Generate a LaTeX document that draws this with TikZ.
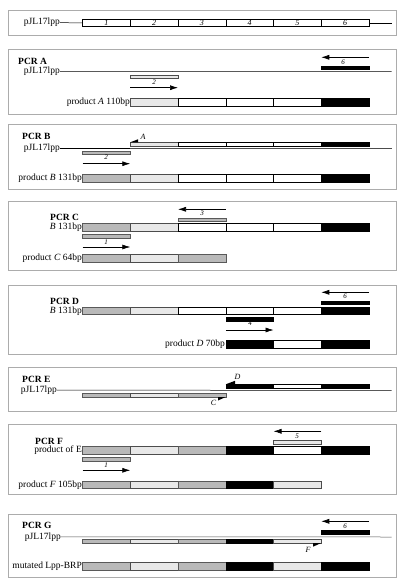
\documentclass[tikz,border=0pt]{standalone}
\usepackage{fontspec}
\setmainfont{Liberation Serif}
\usetikzlibrary{arrows.meta}
\newcommand\dnabar[3]{%
  \foreach \i/\s in {#3}{\path[\s] ({82.5+(\i-1)*47.75},#1) rectangle ({82.5+\i*47.75},#2);}}
\begin{document}
\begin{tikzpicture}[x=1pt,y=-1pt,
  frame/.style={draw=gray!65,line width=0.9pt},
  segW/.style={fill=white,draw=black,line width=0.4pt},
  segL/.style={fill=gray!18,draw=gray!60!black,line width=0.4pt},
  segD/.style={fill=gray!55,draw=gray!70!black,line width=0.4pt},
  segB/.style={fill=black,draw=black,line width=0.4pt},
  lbl/.style={inner sep=0pt,font=\fontsize{9.5}{11}\selectfont},
  ttl/.style={inner sep=0pt,anchor=west,font=\fontsize{9.5}{11}\selectfont\bfseries},
  num/.style={inner sep=0pt,font=\fontsize{7}{8}\selectfont\itshape},
  dna/.style={line width=0.5pt},
  parrow/.style={line width=0.6pt,-{Latex[length=8pt,width=5pt]}},
  wedge/.style={fill=black}]
\useasboundingbox (0,0) rectangle (405,588);

% ---------- overview ----------
\draw[frame] (8.3,10) rectangle (396.7,35.7);
\node[lbl,anchor=east] (t0) at (60,22.6) {pJL17lpp};
\draw[dna] (t0.east) -- (82.5,23);
\draw[dna] (369,23) -- (391.7,23);
\dnabar{19}{26.7}{1/segW,2/segW,3/segW,4/segW,5/segW,6/segW}
\foreach \i in {1,...,6}{\node[num,font=\fontsize{8}{9}\selectfont\itshape] (n\i) at ({82.5+(\i-0.5)*47.75},22.9) {\i};}

% ---------- PCR A ----------
\draw[frame] (8.3,49.3) rectangle (396.7,114);
\node[ttl] (tA) at (18,61.2) {PCR A};
\node[lbl,anchor=east] (pA) at (60,71.4) {pJL17lpp};
\draw[dna] (pA.east) -- (391.7,71.7);
\coordinate (a6s) at (369,57.3); \coordinate (a6e) at (321.25,57.3);
\draw[parrow] (a6s) -- (a6e);
\node[num] (lA6) at (343,62) {6};
\path[segB] (321.25,66.7) rectangle (369,69.7);
\path[segL] (130.25,75.3) rectangle (178,78.7);
\node[num] (lA2) at (154,82.3) {2};
\coordinate (a2s) at (130.25,87.7); \coordinate (a2e) at (178,87.7);
\draw[parrow] (a2s) -- (a2e);
\dnabar{98.3}{106}{2/segL,3/segW,4/segW,5/segW,6/segB}
\node[lbl,anchor=east] (prA) at (130,102.2) {product \textit{A} 110bp};

% ---------- PCR B ----------
\draw[frame] (8.3,124) rectangle (396.7,189.3);
\node[ttl] (tB) at (22,136.4) {PCR B};
\node[lbl,anchor=east] (pB) at (60,148.3) {pJL17lpp};
\draw[dna] (pB.east) -- (130.25,148.3);
\draw[dna,gray!60!black] (130.25,148.3) -- (391.7,148.3);
\dnabar{142.3}{146}{2/segL,3/segW,4/segW,5/segW,6/segB}
\fill[wedge] (130.25,142.3) -- (138,139.3) -- (138,142.3) -- cycle;
\node[num,font=\fontsize{8}{9}\selectfont\itshape] (lBA) at (143,136.7) {A};
\path[segD] (82.5,151) rectangle (130.25,154);
\node[num] (lB2) at (106,157.5) {2};
\coordinate (b1s) at (82.5,163.7); \coordinate (b1e) at (130.25,163.7);
\draw[parrow] (b1s) -- (b1e);
\dnabar{174.3}{182}{1/segD,2/segL,3/segW,4/segW,5/segW,6/segB}
\node[lbl,anchor=east] (prB) at (82,178.2) {product \textit{B} 131bp};

% ---------- PCR C ----------
\draw[frame] (8.3,201) rectangle (396.7,270);
\coordinate (c3s) at (225.75,209.3); \coordinate (c3e) at (178,209.3);
\draw[parrow] (c3s) -- (c3e);
\node[num] (lC3) at (202,213.3) {3};
\path[segD] (178,218) rectangle (225.75,221.3);
\node[ttl] (tC) at (50,217.2) {PCR C};
\dnabar{223.3}{231}{1/segD,2/segL,3/segW,4/segW,5/segW,6/segB}
\node[lbl,anchor=east] (tmC) at (82,227.6) {\textit{B} 131bp};
\path[segD] (82.5,234.3) rectangle (130.25,237.7);
\node[num] (lC1) at (106,242) {1};
\coordinate (c1s) at (82.5,247); \coordinate (c1e) at (130.25,247);
\draw[parrow] (c1s) -- (c1e);
\dnabar{254.3}{262}{1/segD,2/segL,3/segD}
\node[lbl,anchor=east] (prC) at (82,258.2) {product \textit{C} 64bp};

% ---------- PCR D ----------
\draw[frame] (8.3,285) rectangle (396.7,354);
\coordinate (d6s) at (369,292.3); \coordinate (d6e) at (321.25,292.3);
\draw[parrow] (d6s) -- (d6e);
\node[num] (lD6) at (345,296.7) {6};
\path[segB] (321.25,301) rectangle (369,304.3);
\node[ttl] (tD) at (50,301.6) {PCR D};
\dnabar{306.7}{314.3}{1/segD,2/segL,3/segW,4/segW,5/segW,6/segB}
\node[lbl,anchor=east] (tmD) at (82,311) {\textit{B} 131bp};
\path[segB] (225.75,316.7) rectangle (273.5,320.7);
\node[num] (lD4) at (250,323.3) {4};
\coordinate (d4s) at (225.75,330); \coordinate (d4e) at (273.5,330);
\draw[parrow] (d4s) -- (d4e);
\dnabar{340}{347.7}{4/segB,5/segW,6/segB}
\node[lbl,anchor=east] (prD) at (225,344) {product \textit{D} 70bp};

% ---------- PCR E ----------
\draw[frame] (8.3,367.3) rectangle (396.7,411);
\node[ttl] (tE) at (22,379.6) {PCR E};
\node[num,font=\fontsize{8}{9}\selectfont\itshape] (lED) at (237.5,377.3) {D};
\dnabar{384.3}{388}{4/segB,5/segW,6/segB}
\fill[wedge] (225.75,384.3) -- (235,380.8) -- (235,384.3) -- cycle;
\node[lbl,anchor=east] (pE) at (57,390.2) {pJL17lpp};
\draw[dna] (pE.east) -- (391.7,390.3);
\dnabar{393.3}{397}{1/segD,2/segL,3/segD}
\fill[wedge] (225.75,397) -- (218,400.5) -- (218,397) -- cycle;
\node[num,font=\fontsize{8}{9}\selectfont\itshape] (lEC) at (213.5,403.3) {C};

% ---------- PCR F ----------
\draw[frame] (8.3,424.3) rectangle (396.7,494.7);
\coordinate (f5s) at (321.25,431.3); \coordinate (f5e) at (273.5,431.3);
\draw[parrow] (f5s) -- (f5e);
\node[num] (lF5) at (297,436) {5};
\path[segL] (273.5,440) rectangle (321.25,443.7);
\node[ttl] (tF) at (35,441.6) {PCR F};
\dnabar{446.3}{454}{1/segD,2/segL,3/segD,4/segB,5/segW,6/segB}
\node[lbl,anchor=east] (tmF) at (82,450.6) {product of E};
\path[segD] (82.5,457.3) rectangle (130.25,461);
\node[num] (lF1) at (106,465.3) {1};
\coordinate (f1s) at (82.5,470.3); \coordinate (f1e) at (130.25,470.3);
\draw[parrow] (f1s) -- (f1e);
\dnabar{481}{488.3}{1/segD,2/segL,3/segD,4/segB,5/segL}
\node[lbl,anchor=east] (prF) at (82,484.8) {product \textit{F} 105bp};

% ---------- PCR G ----------
\draw[frame] (8.3,514.7) rectangle (396.7,577);
\coordinate (g6s) at (369,521.3); \coordinate (g6e) at (321.25,521.3);
\draw[parrow] (g6s) -- (g6e);
\node[num] (lG6) at (345,526.3) {6};
\path[segB] (321.25,530.3) rectangle (369,534);
\node[ttl] (tG) at (22,525.6) {PCR G};
\node[lbl,anchor=east] (pG) at (61,536.8) {pJL17lpp};
\draw[dna,gray!60!black] (pG.east) -- (391.7,537);
\dnabar{539.5}{543}{1/segD,2/segL,3/segD,4/segB,5/segL}
\fill[wedge] (321.25,543) -- (313,546.7) -- (313,543) -- cycle;
\node[num,font=\fontsize{8}{9}\selectfont\itshape] (lGF) at (308,550) {F};
\dnabar{562}{570}{1/segD,2/segL,3/segD,4/segB,5/segL,6/segB}
\node[lbl,anchor=east] (prG) at (82,566) {mutated Lpp-BRP};
\end{tikzpicture}
\end{document}
